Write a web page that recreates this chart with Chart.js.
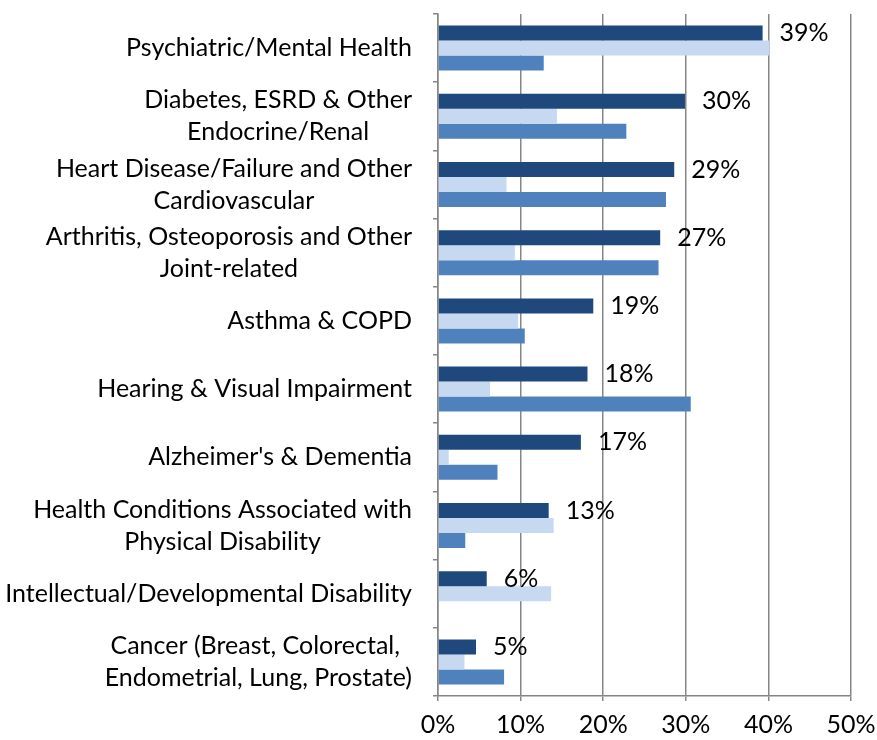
<!DOCTYPE html>
<html>
<head>
<meta charset="utf-8">
<script src="https://cdn.jsdelivr.net/npm/chart.js@4"></script>
<style>
  html, body { margin: 0; padding: 0; background: #fff; }
  #wrap { width: 877px; height: 740px; }
</style>
</head>
<body>
<div id="wrap"><canvas id="chronicChart"></canvas></div>
<script>
// Categories (each one split in the lines shown on the axis)
const categories = [
    ['Psychiatric/Mental Health'],
    ['Diabetes, ESRD & Other', 'Endocrine/Renal'],
    ['Heart Disease/Failure and Other', 'Cardiovascular'],
    ['Arthritis, Osteoporosis and Other', 'Joint-related'],
    ['Asthma & COPD'],
    ['Hearing & Visual Impairment'],
    ["Alzheimer's & Dementia"],
    ['Health Conditions Associated with', 'Physical Disability'],
    ['Intellectual/Developmental Disability'],
    ['Cancer (Breast, Colorectal, ', 'Endometrial, Lung, Prostate)']
];

// Series values (%)
const darkSeries = [39.3, 29.9, 28.6, 26.9, 18.8, 18.1, 17.3, 13.4, 5.9, 4.6];
const lightSeries = [40.1, 14.4, 8.3, 9.3, 9.7, 6.3, 1.3, 14.0, 13.7, 3.2];
const mediumSeries = [12.8, 22.8, 27.6, 26.7, 10.5, 30.6, 7.2, 3.3, 0, 8.0];

// X axis ticks
const xTicks = [0, 10, 20, 30, 40, 50];

const fontFamily = 'Lato';
const axisGray = '#868686';

// Category labels: block right-aligned, lines centred inside the block
const categoryLabels = {
    id: 'categoryLabels',
    afterDraw(chart) {
        const ctx = chart.ctx;
        const yScale = chart.scales.y;
        ctx.save();
        ctx.font = '25px ' + fontFamily;
        ctx.fillStyle = '#000';
        ctx.textAlign = 'center';
        ctx.textBaseline = 'middle';
        categories.forEach((lines, i) => {
            const y = yScale.getPixelForValue(i);
            const widest = Math.max(...lines.map(l => ctx.measureText(l).width));
            const cx = chart.chartArea.left - 26 - widest / 2;
            lines.forEach((line, j) => {
                ctx.fillText(line, cx, y + (j - (lines.length - 1) / 2) * 32);
            });
        });
        ctx.restore();
    }
};

// Value labels next to the dark bars
const valueLabels = {
    id: 'valueLabels',
    afterDatasetsDraw(chart) {
        const ctx = chart.ctx;
        const meta = chart.getDatasetMeta(0);
        ctx.save();
        ctx.font = '25px ' + fontFamily;
        ctx.fillStyle = '#000';
        ctx.textAlign = 'left';
        ctx.textBaseline = 'middle';
        meta.data.forEach((bar, i) => {
            ctx.fillText(Math.round(darkSeries[i]) + '%', bar.x + 17, bar.y);
        });
        ctx.restore();
    }
};

const ctx = document.getElementById('chronicChart').getContext('2d');
const chronicChart = new Chart(ctx, {
    type: 'bar',
    data: {
        labels: categories.map(c => c.join(' ')),
        datasets: [
            { data: darkSeries, backgroundColor: '#1F497D' },
            { data: lightSeries, backgroundColor: '#C6D9F1' },
            { data: mediumSeries, backgroundColor: '#4F81BD' }
        ]
    },
    options: {
        indexAxis: 'y',
        responsive: true,
        maintainAspectRatio: false,
        animation: false,
        layout: {
            padding: { left: 433, right: 26, top: 14, bottom: 0 }
        },
        datasets: {
            bar: { categoryPercentage: 0.66, barPercentage: 1 }
        },
        plugins: {
            legend: { display: false },
            tooltip: { enabled: false }
        },
        scales: {
            x: {
                min: xTicks[0],
                max: xTicks[xTicks.length - 1],
                afterBuildTicks: scale => {
                    scale.ticks = xTicks.map(v => ({ value: v }));
                },
                // keep the plot area where the reference has it
                afterFit: scale => {
                    scale.paddingLeft = 0;
                    scale.paddingRight = 0;
                    scale.height = 44;
                },
                ticks: {
                    callback: value => value + '%',
                    color: '#000',
                    padding: 9,
                    font: { family: fontFamily, size: 25 }
                },
                grid: {
                    color: axisGray,
                    lineWidth: 1.5,
                    tickLength: 5
                },
                border: { color: axisGray, width: 1.5 }
            },
            y: {
                ticks: { display: false },
                grid: {
                    drawOnChartArea: false,
                    offset: true,
                    tickLength: 5,
                    lineWidth: 1.5,
                    color: axisGray
                },
                border: { color: axisGray, width: 1.5 }
            }
        }
    },
    plugins: [categoryLabels, valueLabels]
});
</script>
</body>
</html>
